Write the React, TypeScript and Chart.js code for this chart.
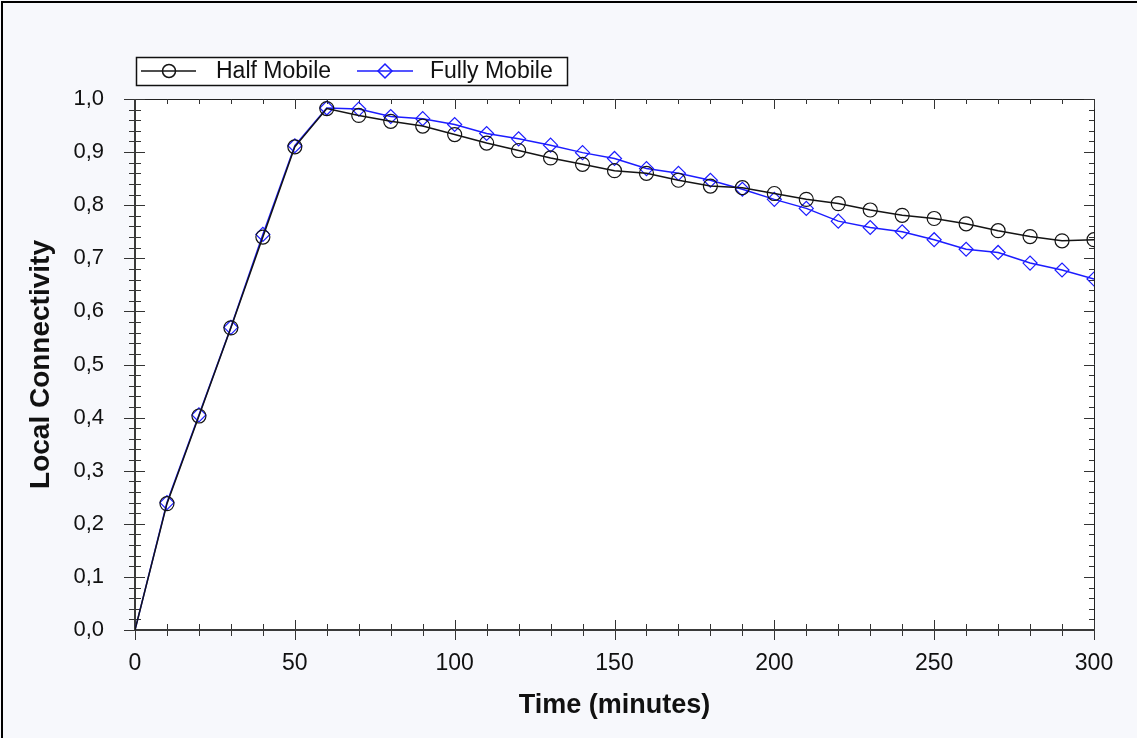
import React, { useEffect, useRef } from 'react';
import { Chart, registerables } from 'chart.js';

Chart.register(...registerables);

// ---- Data ----
const TIMES = [0, 10, 20, 30, 40, 50, 60, 70, 80, 90, 100, 110, 120, 130, 140, 150, 160, 170, 180, 190, 200, 210, 220, 230, 240, 250, 260, 270, 280, 290, 300];
const HALF_MOBILE = [0, 0.238, 0.403, 0.569, 0.74, 0.91, 0.982, 0.969, 0.958, 0.949, 0.933, 0.917, 0.903, 0.889, 0.877, 0.865, 0.86, 0.847, 0.836, 0.833, 0.822, 0.811, 0.803, 0.791, 0.781, 0.775, 0.765, 0.752, 0.741, 0.733, 0.735];
const FULLY_MOBILE = [0, 0.24, 0.405, 0.57, 0.745, 0.912, 0.983, 0.981, 0.967, 0.963, 0.952, 0.935, 0.925, 0.913, 0.899, 0.888, 0.869, 0.86, 0.847, 0.83, 0.811, 0.794, 0.77, 0.758, 0.75, 0.735, 0.717, 0.711, 0.691, 0.678, 0.661];
const SERIES_NAMES = ['Half Mobile', 'Fully Mobile'];
const X_TITLE = 'Time (minutes)';
const Y_TITLE = 'Local Connectivity';

const FONT = '"Liberation Sans", Arial, sans-serif';
const BLACK = '#141414';
const BLUE = '#1c1cff';

const toPoints = (vals: number[]) => vals.map((v, i) => ({ x: TIMES[i], y: v }));

const framePlugin = {
  id: 'framePlugin',
  beforeDraw(chart: any) {
    const { ctx, width, height, chartArea: a } = chart;
    ctx.save();
    ctx.fillStyle = '#f7f8fc';
    ctx.fillRect(0, 0, width, height);
    ctx.fillStyle = '#ffffff';
    ctx.fillRect(a.left, a.top, a.right - a.left, a.bottom - a.top);
    ctx.strokeStyle = '#000';
    ctx.lineWidth = 2;
    ctx.strokeRect(2, 2, width + 20, height + 20);
    ctx.restore();
  },
  beforeDatasetsDraw(chart: any) {
    const { ctx, chartArea: a, scales } = chart;
    const xs = scales.x;
    const ys = scales.y;
    ctx.save();
    // top & right border
    ctx.strokeStyle = '#222';
    ctx.lineWidth = 1;
    ctx.beginPath();
    ctx.moveTo(a.left, a.top + 0.5);
    ctx.lineTo(a.right + 0.5, a.top + 0.5);
    ctx.lineTo(a.right + 0.5, a.bottom);
    ctx.stroke();
    // x ticks
    ctx.strokeStyle = '#333';
    for (let v = 0; v <= 300; v += 10) {
      const px = Math.round(xs.getPixelForValue(v)) + 0.5;
      const major = v % 50 === 0;
      const L = major ? 10 : 6;
      ctx.beginPath();
      ctx.moveTo(px, a.bottom - L);
      ctx.lineTo(px, a.bottom + L);
      ctx.moveTo(px, a.top);
      ctx.lineTo(px, a.top + (major ? 10 : 5));
      ctx.stroke();
    }
    // y ticks
    for (let i = 0; i <= 50; i++) {
      const v = i * 0.02;
      const py = Math.round(ys.getPixelForValue(v)) + 0.5;
      const major = i % 5 === 0;
      ctx.beginPath();
      if (major) {
        ctx.moveTo(a.left - 11, py);
        ctx.lineTo(a.left + 10, py);
      } else {
        ctx.moveTo(a.left - 6, py);
        ctx.lineTo(a.left + 6, py);
      }
      ctx.moveTo(a.right, py);
      ctx.lineTo(a.right - (major ? 10 : 5), py);
      ctx.stroke();
    }
    // left & bottom axis
    ctx.strokeStyle = '#3a3a3a';
    ctx.lineWidth = 2;
    ctx.beginPath();
    ctx.moveTo(a.left, a.top);
    ctx.lineTo(a.left, a.bottom);
    ctx.lineTo(a.right + 1, a.bottom);
    ctx.stroke();
    ctx.restore();
  },
  afterDraw(chart: any) {
    const { ctx } = chart;
    ctx.save();
    // legend box
    const bx = 136.5, by = 57.5, bw = 431, bh = 28;
    ctx.fillStyle = '#ffffff';
    ctx.fillRect(bx, by, bw, bh);
    ctx.strokeStyle = '#111';
    ctx.lineWidth = 1.5;
    ctx.strokeRect(bx, by, bw, bh);
    const cy = 71;
    // item 1
    ctx.strokeStyle = BLACK;
    ctx.lineWidth = 1.5;
    ctx.beginPath();
    ctx.moveTo(141, cy);
    ctx.lineTo(196, cy);
    ctx.stroke();
    ctx.beginPath();
    ctx.arc(169, cy, 6.5, 0, Math.PI * 2);
    ctx.stroke();
    // item 2
    ctx.strokeStyle = BLUE;
    ctx.beginPath();
    ctx.moveTo(357, cy);
    ctx.lineTo(413, cy);
    ctx.stroke();
    ctx.beginPath();
    ctx.moveTo(385 - 7, cy);
    ctx.lineTo(385, cy - 7);
    ctx.lineTo(385 + 7, cy);
    ctx.lineTo(385, cy + 7);
    ctx.closePath();
    ctx.stroke();
    ctx.fillStyle = '#111';
    ctx.font = `23px ${FONT}`;
    ctx.textBaseline = 'middle';
    ctx.textAlign = 'left';
    ctx.fillText(SERIES_NAMES[0], 216, cy + 1);
    ctx.fillText(SERIES_NAMES[1], 430, cy + 1);
    ctx.restore();
  },
};

export default function App() {
  const ref = useRef<HTMLCanvasElement | null>(null);
  useEffect(() => {
    const canvas = ref.current;
    if (!canvas) return;
    const chart = new Chart(canvas, {
      type: 'line',
      data: {
        datasets: [
          {
            label: SERIES_NAMES[0],
            data: toPoints(HALF_MOBILE),
            borderColor: BLACK,
            borderWidth: 1.5,
            pointStyle: 'circle',
            pointRadius: (c: any) => (c.dataIndex === 0 ? 0 : 7),
            pointBorderColor: BLACK,
            pointBackgroundColor: 'rgba(0,0,0,0)',
            pointBorderWidth: 1.2,
            tension: 0,
          },
          {
            label: SERIES_NAMES[1],
            data: toPoints(FULLY_MOBILE),
            borderColor: BLUE,
            borderWidth: 1.5,
            pointStyle: 'rectRot',
            pointRadius: (c: any) => (c.dataIndex === 0 ? 0 : 7),
            pointBorderColor: BLUE,
            pointBackgroundColor: 'rgba(0,0,0,0)',
            pointBorderWidth: 1.2,
            tension: 0,
          },
        ],
      },
      options: {
        responsive: false,
        animation: false,
        events: [],
        layout: { padding: { top: 99, right: 43, left: 0, bottom: 0 } },
        plugins: { legend: { display: false }, tooltip: { enabled: false } },
        scales: {
          x: {
            type: 'linear',
            min: 0,
            max: 300,
            afterFit: (s: any) => { s.height = 108; },
            grid: { display: false, drawTicks: false },
            border: { display: false },
            ticks: {
              stepSize: 50,
              padding: 20,
              color: '#111',
              font: { family: FONT, size: 23 },
              maxRotation: 0,
            },
            title: {
              display: true,
              text: X_TITLE,
              color: '#111',
              font: { family: FONT, size: 27, weight: 'bold' },
              padding: { top: 0, bottom: 16 },
            },
          },
          y: {
            type: 'linear',
            min: 0,
            max: 1,
            afterFit: (s: any) => { s.width = 135; },
            grid: { display: false, drawTicks: false },
            border: { display: false },
            ticks: {
              stepSize: 0.1,
              padding: 31,
              color: '#111',
              font: { family: FONT, size: 22 },
              callback: (v: any) => Number(v).toFixed(1).replace('.', ','),
            },
            title: {
              display: true,
              text: Y_TITLE,
              color: '#111',
              font: { family: FONT, size: 28, weight: 'bold' },
              padding: { top: 24, bottom: 0 },
            },
          },
        },
      },
      plugins: [framePlugin],
    } as any);
    return () => chart.destroy();
  }, []);
  return (
    <div style={{ position: 'absolute', left: 0, top: 0, width: 1137, height: 738 }}>
      <canvas ref={ref} width={1137} height={738} style={{ display: 'block', width: 1137, height: 738 }} />
    </div>
  );
}
